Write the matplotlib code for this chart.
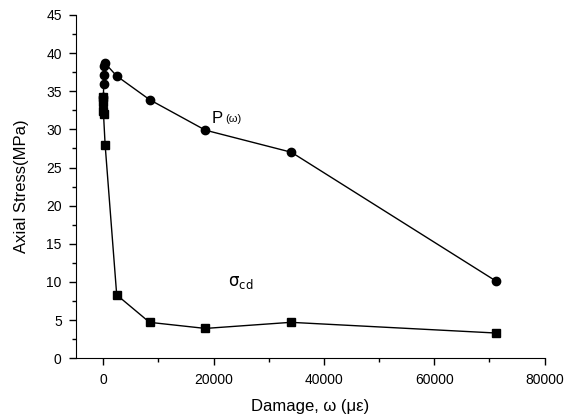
import matplotlib
matplotlib.use("Agg")
from matplotlib import pyplot as plt
from matplotlib.ticker import MultipleLocator

plt.rcParams['font.family'] = ['Liberation Sans', 'DejaVu Sans']

# P(omega) curve (circles)
p_damage = [50, 80, 120, 180, 300, 2450, 8400, 18500, 34100, 71200]
p_stress = [34.2, 35.9, 37.1, 38.3, 38.7, 37.0, 33.9, 29.9, 27.0, 10.1]

# sigma_cd curve (squares)
cd_damage = [0, 20, 40, 60, 350, 2450, 8400, 18500, 34000, 71100]
cd_stress = [34.2, 33.6, 32.4, 32.0, 28.0, 8.3, 4.7, 3.9, 4.7, 3.3]

fig = plt.figure(figsize=(5.77, 4.16), dpi=100)
ax = fig.add_axes([0.131, 0.139, 0.813, 0.825])

ax.plot(cd_damage, cd_stress, color='black', lw=1.0, marker='s', ms=5.5)
ax.plot(p_damage, p_stress, color='black', lw=1.0, marker='o', ms=6)

ax.text(19700, 30.8, 'P', fontsize=12)
ax.text(22200, 31.0, '(ω)', fontsize=8)
ax.text(22600, 9.4, r'$\mathrm{\sigma_{cd}}$', fontsize=12)

ax.set_xlim(-5000, 80000)
ax.set_ylim(0, 45)
ax.xaxis.set_major_locator(MultipleLocator(20000))
ax.xaxis.set_minor_locator(MultipleLocator(10000))
ax.yaxis.set_major_locator(MultipleLocator(5))
ax.yaxis.set_minor_locator(MultipleLocator(2.5))
ax.tick_params(which='major', direction='out', length=5, width=1, labelsize=10)
ax.tick_params(axis='x', which='major', pad=6)
ax.tick_params(axis='y', which='major', pad=5)
ax.tick_params(which='minor', direction='out', length=3, width=1)

for s in ['top', 'right']:
    ax.spines[s].set_visible(False)

ax.set_xlabel('Damage, ω (με)', fontsize=12, labelpad=8)
ax.set_ylabel('Axial Stress(MPa)', fontsize=12, labelpad=12)

fig.savefig('out.png', dpi=100)
